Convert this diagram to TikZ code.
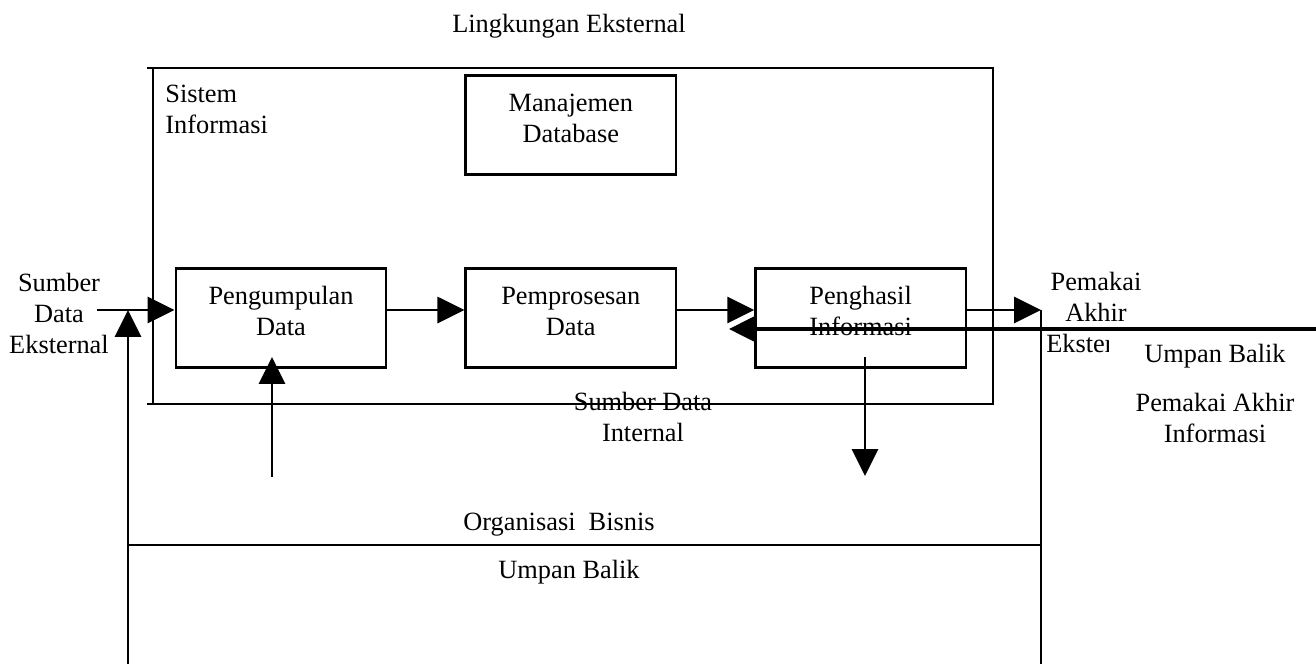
\documentclass[tikz,border=0pt]{standalone}
\usepackage{fontspec}
\setmainfont{Liberation Serif}
\usetikzlibrary{arrows.meta,calc,positioning}
\tikzset{
    >={Triangle[length=0.43cm,width=0.42cm]},auto,node distance =1.23cm and 1.23cm,
    box/.style ={rectangle, draw, line width=1.1pt, minimum width = 3.37cm, minimum height = 1.58cm, inner sep=0pt, align=center, text depth=0.22cm},
    txt/.style = {inner sep=0pt, align=center},
    garis/.style = {line width=1pt},
    balik/.style = {line width=1.4pt}
}
\begin{document}
\begin{tikzpicture}[x=0.016cm,y=-0.016cm,font=\fontsize{12}{14}\selectfont]
	\useasboundingbox (0,0) rectangle (1316,664);
	\node[txt,anchor=base] (5) at (569,32) {Lingkungan Eksternal};
	% sistem informasi
	\draw[garis] (147,68) -- (993,68) -- (993,404) -- (147,404);
	\draw[garis] (153,68) -- (153,404);
	\node[txt,anchor=north west,align=left] (6) at (165,85) {Sistem\\Informasi};
 	\node[box] (1) at (281,318) {Pengumpulan\\Data};
	\node[box] (2) [right = of 1] {Pemprosesan\\Data};
	\node[box] (3) [right = of 2] {Penghasil\\Informasi};
	\node[box] (4) [above = 1.47cm of 2] {Manajemen\\Database};
	\node[txt,anchor=north] (7) at (59,273) {Sumber\\Data\\Eksternal};
	\begin{scope}
		\clip (1044,260) -- (1160,260) -- (1160,330) -- (1108,330) -- (1108,370) -- (1044,370) -- cycle;
		\node[txt,anchor=north] (8) at (1096,272) {Pemakai\\Akhir\\Eksternal};
	\end{scope}
	\node[txt,anchor=base] (9) at (1215,362) {Umpan Balik};
	\node[txt,anchor=north] (10) at (1215,393) {Pemakai Akhir\\Informasi};
	\node[txt,anchor=north] (11) at (643,392) {Sumber Data\\Internal};
	\node[txt,anchor=base] (12) at (559,530) {Organisasi~~Bisnis};
	\node[txt,anchor=base] (13) at (569,578) {Umpan Balik};

	\coordinate (a) at (97,310);
	\coordinate (b) at (1041,310);
	\coordinate (c) at (1316,329);
	\coordinate (d) at (729,329);
	\coordinate (e) at (1041,664);
	\coordinate (f) at (128,664);
	\coordinate (g) at (128,545);
	\coordinate (h) at (1041,545);
	\coordinate (i) at (272,477);
	\coordinate (j) at (272,357);
	\coordinate (k) at (865,357);
	\coordinate (l) at (865,476);
	\draw[garis,->] (a) -- (a -| 1.west);
	\draw[garis,->] (1.east |- a) -- (2.west |- a);
	\draw[garis,->] (2.east |- a) -- (3.west |- a);
	\draw[garis,->] (3.east |- a) -- (b);
	\draw[balik,->] (c) -- (d);
	\draw[garis] (b) -- (e);
	\draw[garis] (g) -- (h);
	\draw[garis,->] (f) -- (f |- a);
	\draw[garis,->] (i) -- (j);
	\draw[garis,->] (k) -- (l);
\end{tikzpicture}
\end{document}
